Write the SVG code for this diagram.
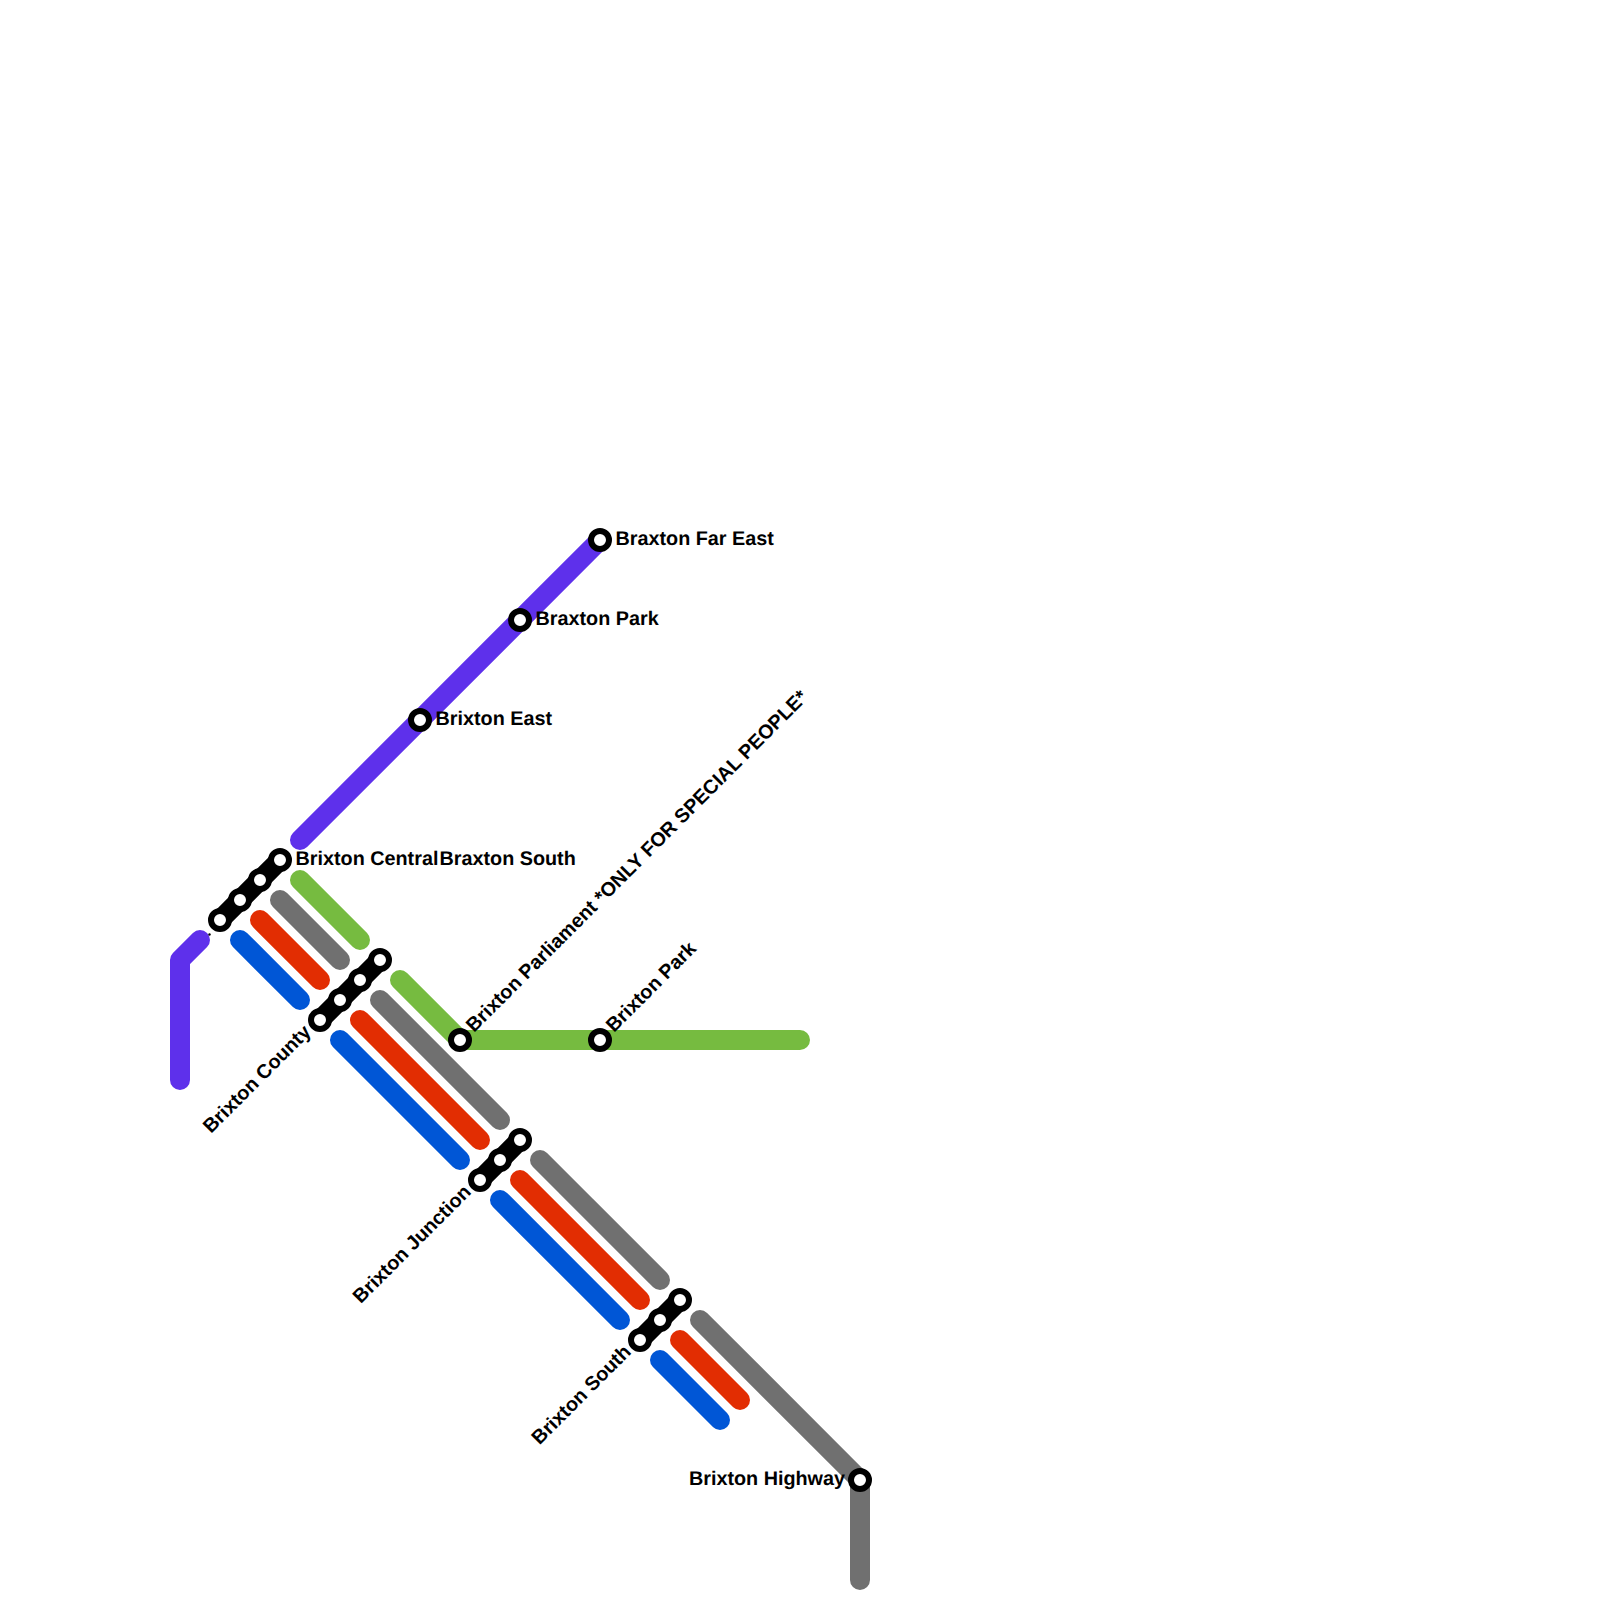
<svg xmlns="http://www.w3.org/2000/svg" width="1600" height="1600" viewBox="0 0 1600 1600">
<style>
.l{fill:none;stroke-width:20;stroke-linecap:round;stroke-linejoin:round}
.p{stroke:#5e30eb}.g{stroke:#76bb40}.k{stroke:#707070}.r{stroke:#e22d02}.b{stroke:#0056d6}
.c{fill:none;stroke:#000;stroke-width:20;stroke-linecap:round}
.s{fill:#fff;stroke:#000;stroke-width:6}
text{font-family:"Liberation Sans",Arial,sans-serif;font-size:19.800px;font-weight:bold;fill:#000;text-rendering:geometricPrecision}
</style>
<g id="connectors">
<path class="l p" d="M180 1080V960L200 940"/>
<path class="l p" d="M300 840L600 540"/>
<path class="l g" d="M300 880L360 940"/>
<path class="l g" d="M400 980L460 1040H800"/>
<path class="l k" d="M280 900L340 960"/>
<path class="l k" d="M380 1000L500 1120"/>
<path class="l k" d="M540 1160L660 1280"/>
<path class="l k" d="M700 1320L860 1480V1580"/>
<path class="l r" d="M260 920L320 980"/>
<path class="l r" d="M360 1020L480 1140"/>
<path class="l r" d="M520 1180L640 1300"/>
<path class="l r" d="M680 1340L740 1400"/>
<path class="l b" d="M240 940L300 1000"/>
<path class="l b" d="M340 1040L460 1160"/>
<path class="l b" d="M500 1200L620 1320"/>
<path class="l b" d="M660 1360L720 1420"/>
<path class="c" d="M220 920L280 860"/>
<path class="c" d="M320 1020L380 960"/>
<path class="c" d="M480 1180L520 1140"/>
<path class="c" d="M640 1340L680 1300"/>
</g>
<circle cx="209.500" cy="934.500" r="1.200" fill="#000"/>
<g id="st-far-east"><circle class="s" cx="600" cy="540" r="9"/><text x="615.500" y="545">Braxton Far East</text></g>
<g id="st-braxton-park"><circle class="s" cx="520" cy="620" r="9"/><text x="535.500" y="625">Braxton Park</text></g>
<g id="st-east"><circle class="s" cx="420" cy="720" r="9"/><text x="435.500" y="725">Brixton East</text></g>
<g id="st-central"><circle class="s" cx="280" cy="860" r="9"/><circle class="s" cx="260" cy="880" r="9"/><circle class="s" cx="240" cy="900" r="9"/><circle class="s" cx="220" cy="920" r="9"/><text x="295.500" y="865">Brixton Central</text><text x="439.500" y="865">Braxton South</text></g>
<g id="st-county"><circle class="s" cx="380" cy="960" r="9"/><circle class="s" cx="360" cy="980" r="9"/><circle class="s" cx="340" cy="1000" r="9"/><circle class="s" cx="320" cy="1020" r="9"/><text transform="translate(312 1033) rotate(-45)" text-anchor="end">Brixton County</text></g>
<g id="st-junction"><circle class="s" cx="520" cy="1140" r="9"/><circle class="s" cx="500" cy="1160" r="9"/><circle class="s" cx="480" cy="1180" r="9"/><text transform="translate(472 1193) rotate(-45)" text-anchor="end">Brixton Junction</text></g>
<g id="st-south"><circle class="s" cx="680" cy="1300" r="9"/><circle class="s" cx="660" cy="1320" r="9"/><circle class="s" cx="640" cy="1340" r="9"/><text transform="translate(632 1353) rotate(-45)" text-anchor="end">Brixton South</text></g>
<g id="st-parliament"><circle class="s" cx="460" cy="1040" r="9"/><text transform="translate(474 1033) rotate(-45)">Brixton Parliament *ONLY FOR SPECIAL PEOPLE*</text></g>
<g id="st-brixton-park"><circle class="s" cx="600" cy="1040" r="9"/><text transform="translate(614 1033) rotate(-45)">Brixton Park</text></g>
<g id="st-highway"><circle class="s" cx="860" cy="1480" r="9"/><text x="845" y="1485" text-anchor="end">Brixton Highway</text></g>
</svg>
